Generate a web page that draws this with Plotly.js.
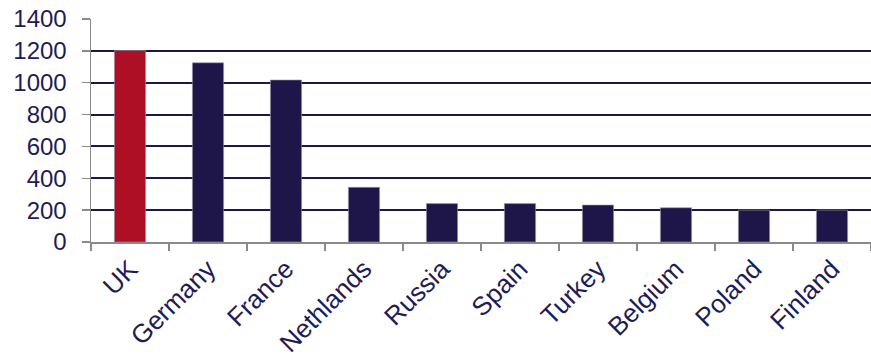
<!DOCTYPE html>
<html>
<head>
<meta charset="utf-8">
<script src="https://cdn.plot.ly/plotly-3.0.1.min.js"></script>
<style>html,body{margin:0;padding:0;background:#fff;}#chart{width:871px;height:360px;}</style>
</head>
<body>
<div id="chart"></div>
<script>
const countries = ["UK","Germany","France","Nethlands","Russia","Spain","Turkey","Belgium","Poland","Finland"];
const values = [1202,1125,1017,343,241,241,232,215,200,200];
const barColors = ["#ae0f24","#1e1648","#1e1648","#1e1648","#1e1648","#1e1648","#1e1648","#1e1648","#1e1648","#1e1648"];
const yTicks = [0,200,400,600,800,1000,1200,1400];

const textColor = "#1e1c54";
Plotly.newPlot("chart", [{
  type: "bar",
  x: countries,
  y: values,
  marker: {color: barColors, line: {color: "#9a98a8", width: 0.6}},
  hoverinfo: "x+y"
}], {
  width: 871, height: 360,
  margin: {l: 91, r: 0, t: 19, b: 118},
  paper_bgcolor: "#fff", plot_bgcolor: "#fff",
  bargap: 0.6,
  showlegend: false,
  font: {family: "Liberation Sans, Arial, sans-serif", color: textColor},
  xaxis: {
    type: "category",
    tickangle: -45,
    tickfont: {size: 26, color: textColor},
    showline: true, linecolor: "#8a8a8a", linewidth: 1.5,
    ticks: "outside", tickson: "boundaries", ticklen: 7, tickcolor: "#8a8a8a", tickwidth: 1.5,
    showgrid: false, zeroline: false
  },
  yaxis: {
    range: [0, 1400],
    tickvals: yTicks,
    tickfont: {size: 24, color: textColor},
    ticklabelstandoff: 10,
    showline: true, linecolor: "#8a8a8a", linewidth: 1.5,
    ticks: "outside", ticklen: 8, tickcolor: "#8a8a8a", tickwidth: 1.5,
    showgrid: true, gridcolor: "#1e1648", gridwidth: 2,
    zeroline: false
  }
}, {displayModeBar: false, staticPlot: true});
</script>
</body>
</html>
